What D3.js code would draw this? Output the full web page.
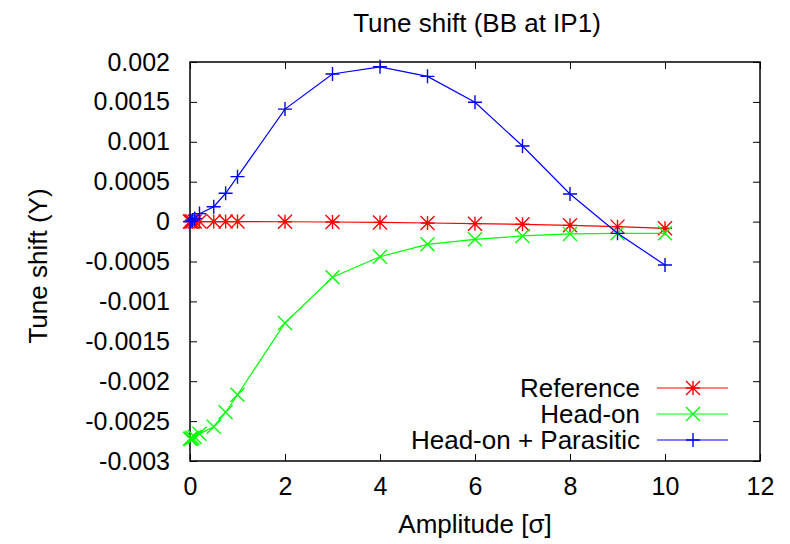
<!DOCTYPE html>
<html>
<head>
<meta charset="utf-8">
<script src="https://cdn.jsdelivr.net/npm/d3@7"></script>
<style>
  body { margin: 0; background: #fff; }
  text { font-family: "Liberation Sans", Arial, sans-serif; fill: #000; }
</style>
</head>
<body>
<div class="chart"></div>
<script>
var amplitude = [0, 0.02, 0.05, 0.1, 0.2, 0.5, 0.75, 1, 2, 3, 4, 5, 6, 7, 8, 9, 10];
var reference = [0, 0, 0, 0, 0, 0, 0, 0, -0.000002, -0.000005, -0.00001, -0.0000175, -0.000026, -0.000034, -0.000047, -0.000063, -0.000084];
var headOn = [-0.00272, -0.00272, -0.00271, -0.0027, -0.00266, -0.00257, -0.00239, -0.00217, -0.00127, -0.000698, -0.00044, -0.000285, -0.000222, -0.00018, -0.000155, -0.000147, -0.000147];
var parasitic = [0, 0.000005, 0.00002, 0.00004, 0.0001, 0.000187, 0.000355, 0.000563, 0.00141, 0.00185, 0.00194, 0.00182, 0.001495, 0.000947, 0.000346, -0.000147, -0.000544];

var seriesNames = ["Reference", "Head-on", "Head-on + Parasitic"];
var xTicks = [0, 2, 4, 6, 8, 10, 12];
var yTicks = [0.002, 0.0015, 0.001, 0.0005, 0, -0.0005, -0.001, -0.0015, -0.002, -0.0025, -0.003];
var yTickLabels = ["0.002", "0.0015", "0.001", "0.0005", "0", "-0.0005", "-0.001", "-0.0015", "-0.002", "-0.0025", "-0.003"];

var svgWidth = 790;
var svgHeight = 544;
var margin = { top: 62, right: 30, bottom: 83, left: 190 };
var width = svgWidth - margin.left - margin.right;
var height = svgHeight - margin.top - margin.bottom;

var svg = d3.select(".chart")
  .append("svg")
  .attr("width", svgWidth)
  .attr("height", svgHeight);

var chartGroup = svg.append("g")
  .attr("transform", `translate(${margin.left}, ${margin.top})`);

var x = d3.scaleLinear().domain([0, 12]).range([0, width]);
var y = d3.scaleLinear().domain([-0.003, 0.002]).range([height, 0]);

var fontSize = 25;
var labelSize = 26;
var tickLen = 7;

// axes with inward ticks, mirrored on top/right
chartGroup.append("g")
  .attr("transform", `translate(0, ${height})`)
  .call(d3.axisBottom(x).tickValues(xTicks).tickSize(-tickLen).tickPadding(16))
  .call(g => g.select(".domain").remove());
chartGroup.append("g")
  .call(d3.axisTop(x).tickValues(xTicks).tickSize(-tickLen).tickFormat(""))
  .call(g => g.select(".domain").remove());
chartGroup.append("g")
  .call(d3.axisLeft(y).tickValues(yTicks).tickSize(-tickLen).tickPadding(20)
    .tickFormat((d, i) => yTickLabels[i]))
  .call(g => g.select(".domain").remove());
chartGroup.append("g")
  .attr("transform", `translate(${width}, 0)`)
  .call(d3.axisRight(y).tickValues(yTicks).tickSize(-tickLen).tickFormat(""))
  .call(g => g.select(".domain").remove());

chartGroup.selectAll(".tick line").attr("stroke", "#000").attr("stroke-width", 1);
chartGroup.selectAll(".tick text")
  .style("font-family", "'Liberation Sans', Arial, sans-serif")
  .style("font-size", fontSize + "px")
  .attr("fill", "#000");

chartGroup.append("rect")
  .attr("width", width)
  .attr("height", height)
  .attr("fill", "none")
  .attr("stroke", "#000")
  .attr("stroke-width", 1.5);

// marker shapes (gnuplot style)
var ms = 7;
function plusPath(s) { return `M${-s},0H${s}M0,${-s}V${s}`; }
function crossPath(s) { return `M${-s},${-s}L${s},${s}M${-s},${s}L${s},${-s}`; }
function starPath(s) { return plusPath(s) + crossPath(s); }

var series = [
  { name: seriesNames[0], values: reference, color: "#ff0000", marker: starPath },
  { name: seriesNames[1], values: headOn, color: "#00ff00", marker: crossPath },
  { name: seriesNames[2], values: parasitic, color: "#0000ff", marker: plusPath }
];

var line = d3.line()
  .x((d, i) => x(amplitude[i]))
  .y(d => y(d));

series.forEach(function(s) {
  chartGroup.append("path")
    .attr("d", line(s.values))
    .attr("fill", "none")
    .attr("stroke", s.color)
    .attr("stroke-width", 1.2);
  chartGroup.selectAll(null)
    .data(s.values)
    .enter()
    .append("path")
    .attr("transform", (d, i) => `translate(${x(amplitude[i])}, ${y(d)})`)
    .attr("d", s.marker(ms))
    .attr("fill", "none")
    .attr("stroke", s.color)
    .attr("stroke-width", 1.4);
});

// legend
var legend = chartGroup.append("g")
  .attr("transform", `translate(${450 - margin.left}, ${388 - margin.top})`);
series.forEach(function(s, i) {
  var row = legend.append("g").attr("transform", `translate(0, ${i * 26})`);
  row.append("text")
    .attr("x", 190)
    .attr("dy", "0.35em")
    .attr("text-anchor", "end")
    .style("font-size", labelSize + "px")
    .text(s.name);
  row.append("line")
    .attr("x1", 207).attr("x2", 278)
    .attr("stroke", s.color)
    .attr("stroke-width", 1.2);
  row.append("path")
    .attr("transform", "translate(243, 0)")
    .attr("d", s.marker(ms))
    .attr("fill", "none")
    .attr("stroke", s.color)
    .attr("stroke-width", 1.4);
});

// title and axis labels
svg.append("text")
  .attr("x", margin.left + width / 2 + 2)
  .attr("y", 32)
  .attr("text-anchor", "middle")
  .style("font-size", labelSize + "px")
  .text("Tune shift (BB at IP1)");

svg.append("text")
  .attr("x", margin.left + width / 2)
  .attr("y", 533)
  .attr("text-anchor", "middle")
  .style("font-size", labelSize + "px")
  .text("Amplitude [σ]");

svg.append("text")
  .attr("transform", "rotate(-90)")
  .attr("x", -266)
  .attr("y", 47)
  .attr("text-anchor", "middle")
  .style("font-size", labelSize + "px")
  .text("Tune shift (Y)");
</script>
</body>
</html>
